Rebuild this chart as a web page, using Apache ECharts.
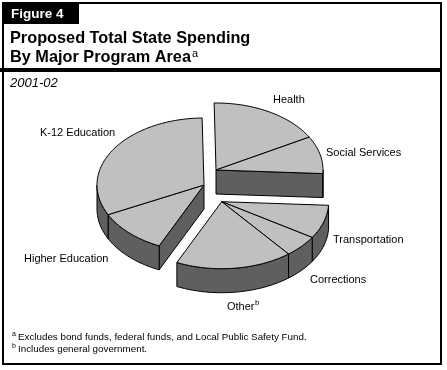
<!DOCTYPE html>
<html><head><meta charset="utf-8">
<script src="https://cdn.jsdelivr.net/npm/echarts@6/dist/echarts.min.js"></script>
<style>html,body{margin:0;padding:0;background:#fff}#c{width:447px;height:370px}</style>
</head><body><div id="c"></div>
<script>
// ---- data ----
const categories = ['Health','Social Services','Transportation','Corrections','Other','Higher Education','K-12 Education'];
const values = [17.1, 9.0, 8.1, 5.3, 17.6, 10.8, 32.0];   // percent of total
const labelNotes = ['', '', '', '', 'b', '', ''];
const groupOf = [0, 0, 1, 1, 1, 2, 2];                       // exploded wedges
const drawOrder = [0, 1, 5, 6, 2, 3, 4];                     // back to front

// ---- layout ----
const FONT = '"Liberation Sans", Arial, sans-serif';
const START = 91, RX = 107, RY = 67, DEPTH = 24;
const GROUP_CENTER = [[216, 170], [221.7, 201.7], [204, 185]];
const LABEL_POS = [[273,100],[326,153],[333,240],[310,280],[227,307],[24,259],[40,133]];
const TOP = '#c0c0c0', SIDE = '#5f5f5f';

const total = values.reduce((a, b) => a + b, 0);
function sliceRange(i) {
  let before = 0; for (let k = 0; k < i; k++) before += values[k];
  const hi = START - before / total * 360;
  const lo = START - (before + values[i]) / total * 360;
  return [lo, hi];
}
function groupRange(g) {
  let lo = Infinity, hi = -Infinity;
  values.forEach((v, i) => { if (groupOf[i] === g) { const r = sliceRange(i); lo = Math.min(lo, r[0]); hi = Math.max(hi, r[1]); } });
  return [lo, hi];
}
function pt(c, deg, dy) { const r = deg * Math.PI / 180; return [c[0] + RX * Math.cos(r), c[1] - RY * Math.sin(r) + (dy || 0)]; }
function arcPts(c, a0, a1, dy) {
  const n = Math.max(2, Math.ceil(Math.abs(a1 - a0) / 1.5)); const p = [];
  for (let j = 0; j <= n; j++) p.push(pt(c, a0 + (a1 - a0) * j / n, dy));
  return p;
}
const cvs = document.createElement('canvas').getContext('2d');
function tw(t, f) { cvs.font = f; return cvs.measureText(t).width; }

function renderItem(params, api) {
  const i = api.value(0);
  const g = groupOf[i];
  const c = GROUP_CENTER[g];
  const [lo, hi] = sliceRange(i);
  const [glo, ghi] = groupRange(g);
  const ch = [];
  const st = { fill: SIDE, stroke: '#000', lineWidth: 1 };
  // radial walls
  const walls = [];
  if (Math.abs(lo - glo) < 1e-6 && Math.cos(glo * Math.PI / 180) > 0.05) walls.push(glo);
  if (Math.abs(hi - ghi) < 1e-6 && Math.cos(ghi * Math.PI / 180) < -0.05) walls.push(ghi);
  walls.forEach(a => {
    const p1 = pt(c, a), p2 = pt(c, a, DEPTH);
    ch.push({ type: 'polygon', shape: { points: [[c[0], c[1]], p1, p2, [c[0], c[1] + DEPTH]] }, style: st });
  });
  // outer rim (front half only)
  for (let k = -2; k <= 1; k++) {
    const f0 = -180 + 360 * k, f1 = 360 * k;
    const a0 = Math.max(lo, f0), a1 = Math.min(hi, f1);
    if (a1 - a0 > 0.2) {
      const top = arcPts(c, a0, a1, 0), bot = arcPts(c, a1, a0, DEPTH);
      ch.push({ type: 'polygon', shape: { points: top.concat(bot) }, style: st });
    }
  }
  // top face
  ch.push({ type: 'polygon', shape: { points: [[c[0], c[1]]].concat(arcPts(c, lo, hi, 0)) },
    style: { fill: TOP, stroke: '#000', lineWidth: 1 } });
  // label
  const lf = '11px ' + FONT;
  const lp = LABEL_POS[i];
  ch.push({ type: 'text', x: lp[0], y: lp[1], style: { text: categories[i], font: lf, fill: '#000', align: 'left', verticalAlign: 'middle' } });
  if (labelNotes[i]) {
    ch.push({ type: 'text', x: lp[0] + tw(categories[i], lf) + 0.5, y: lp[1] - 4, style: { text: labelNotes[i], font: '8px ' + FONT, fill: '#000', align: 'left', verticalAlign: 'middle' } });
  }
  return { type: 'group', children: ch };
}

const t1 = 'bold 16.3px ' + FONT;
const fn = '9.8px ' + FONT;
const chart = echarts.init(document.getElementById('c'), null, { renderer: 'canvas' });
chart.setOption({
  animation: false,
  graphic: [
    { type: 'rect', shape: { x: 3, y: 3, width: 438, height: 361 }, style: { fill: 'none', stroke: '#000', lineWidth: 2 } },
    { type: 'rect', shape: { x: 3, y: 3, width: 76, height: 21 }, style: { fill: '#000' } },
    { type: 'text', x: 11, y: 14, style: { text: 'Figure 4', font: 'bold 13.5px ' + FONT, fill: '#fff', align: 'left', verticalAlign: 'middle' } },
    { type: 'text', x: 10, y: 39, style: { text: 'Proposed Total State Spending', font: t1, fill: '#000', align: 'left', verticalAlign: 'middle' } },
    { type: 'text', x: 10, y: 58, style: { text: 'By Major Program Area', font: t1, fill: '#000', align: 'left', verticalAlign: 'middle' } },
    { type: 'text', x: 10 + tw('By Major Program Area', t1) + 1, y: 54, style: { text: 'a', font: '11px ' + FONT, fill: '#000', align: 'left', verticalAlign: 'middle' } },
    { type: 'rect', shape: { x: 0, y: 68, width: 442, height: 4 }, style: { fill: '#000' } },
    { type: 'text', x: 10, y: 83, style: { text: '2001-02', font: 'italic 13px ' + FONT, fill: '#000', align: 'left', verticalAlign: 'middle' } },
    { type: 'text', x: 12, y: 334, style: { text: 'a', font: '7px ' + FONT, fill: '#000', align: 'left', verticalAlign: 'middle' } },
    { type: 'text', x: 18, y: 337, style: { text: 'Excludes bond funds, federal funds, and Local Public Safety Fund.', font: fn, fill: '#000', align: 'left', verticalAlign: 'middle' } },
    { type: 'text', x: 12, y: 346, style: { text: 'b', font: '7px ' + FONT, fill: '#000', align: 'left', verticalAlign: 'middle' } },
    { type: 'text', x: 18, y: 349, style: { text: 'Includes general government.', font: fn, fill: '#000', align: 'left', verticalAlign: 'middle' } }
  ],
  series: [{
    type: 'custom',
    coordinateSystem: 'none',
    renderItem: renderItem,
    data: drawOrder.map(i => ({ name: categories[i], value: [i, values[i]] }))
  }]
});
</script></body></html>
